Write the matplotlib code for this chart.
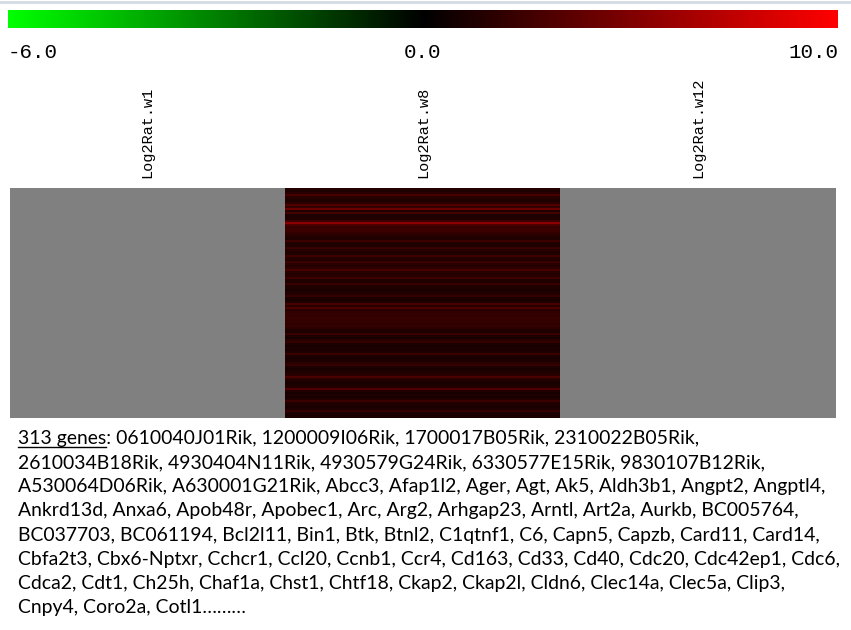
import numpy as np
import matplotlib
matplotlib.use('Agg')
import matplotlib.pyplot as plt
from matplotlib.colors import LinearSegmentedColormap, TwoSlopeNorm
from matplotlib.lines import Line2D

W, H = 851, 630

columns = ['Log2Rat.w1', 'Log2Rat.w8', 'Log2Rat.w12']

# log2 ratio for w8, read top to bottom (each value ~ 2 px band of the heatmap)
w8 = [1.4, 1.2, 1.6, 2.8, 1.6, 1.4, 1.2, 1.7, 3.2, 1.9,
      4.2, 1.4, 2.6, 1.2, 1.1, 1.4, 2.4, 5.5, 3.0, 2.1,
      2.4, 2.2, 2.0, 1.5, 1.4, 1.2, 2.4, 1.4, 1.2, 2.2,
      1.6, 1.2, 1.3, 2.4, 1.5, 1.3, 2.3, 1.7, 1.4, 1.8,
      2.8, 1.7, 1.3, 1.6, 2.4, 1.3, 1.2, 2.2, 1.3, 1.1,
      1.0, 1.2, 1.4, 2.1, 1.2, 1.0, 1.3, 2.8, 1.6, 3.0,
      1.5, 1.9, 2.1, 1.9, 2.2, 2.0, 2.1, 1.8, 2.1, 1.7,
      1.3, 1.1, 2.2, 1.2, 1.0, 1.5, 2.1, 1.1, 1.0, 1.1,
      1.0, 1.3, 2.2, 1.1, 1.0, 1.1, 1.6, 2.1, 1.1, 1.0,
      1.1, 1.3, 1.7, 3.0, 1.5, 1.1, 1.0, 1.1, 1.3, 3.1,
      1.3, 1.0, 1.1, 1.0, 1.3, 2.3, 1.4, 1.1, 1.0, 1.2,
      2.1, 1.1, 1.0, 1.1]
# w1 and w12 have no values (drawn grey)
w1 = [np.nan] * len(w8)
w12 = [np.nan] * len(w8)

cbar_ticks = [-6, 0, 10]
cbar_labels = ['-6.0', '0.0', '10.0']

n_genes = 313
gene_lines = [
    ': 0610040J01Rik, 1200009I06Rik, 1700017B05Rik, 2310022B05Rik,',
    '2610034B18Rik, 4930404N11Rik, 4930579G24Rik, 6330577E15Rik, 9830107B12Rik,',
    'A530064D06Rik, A630001G21Rik, Abcc3, Afap1l2, Ager, Agt, Ak5, Aldh3b1, Angpt2, Angptl4,',
    'Ankrd13d, Anxa6, Apob48r, Apobec1, Arc, Arg2, Arhgap23, Arntl, Art2a, Aurkb, BC005764,',
    'BC037703, BC061194, Bcl2l11, Bin1, Btk, Btnl2, C1qtnf1, C6, Capn5, Capzb, Card11, Card14,',
    'Cbfa2t3, Cbx6-Nptxr, Cchcr1, Ccl20, Ccnb1, Ccr4, Cd163, Cd33, Cd40, Cdc20, Cdc42ep1, Cdc6,',
    'Cdca2, Cdt1, Ch25h, Chaf1a, Chst1, Chtf18, Ckap2, Ckap2l, Cldn6, Clec14a, Clec5a, Clip3,',
    'Cnpy4, Coro2a, Cotl1\u2026\u2026\u2026',
]


def box(x0, y0, x1, y1):
    # pixel box (from top-left) -> figure fraction rect
    return [x0 / W, 1 - y1 / H, (x1 - x0) / W, (y1 - y0) / H]


fig = plt.figure(figsize=(W / 100, H / 100), dpi=100)
fig.patch.set_facecolor('white')

cmap = LinearSegmentedColormap.from_list('gkr', ['#00ff00', '#000000', '#ff0000'])
cmap.set_bad('#808080')
norm = TwoSlopeNorm(vmin=-6, vcenter=0, vmax=10)

# heatmap
ax = fig.add_axes(box(10, 188, 836, 418))
data = np.ma.masked_invalid(np.column_stack([w1, w8, w12]))
im = ax.imshow(data, aspect='auto', cmap=cmap, norm=norm, interpolation='nearest')
ax.set_xticks(range(len(columns)))
ax.set_xticklabels(columns, rotation=90, family='Liberation Mono', fontsize=11)
ax.xaxis.tick_top()
ax.tick_params(axis='x', length=0, pad=7)
ax.set_yticks([])
for s in ax.spines.values():
    s.set_visible(False)

# colour bar on top
cax = fig.add_axes(box(8, 10, 838, 28))
cb = fig.colorbar(im, cax=cax, orientation='horizontal')
cb.set_ticks(cbar_ticks)
cb.set_ticklabels(cbar_labels)
cb.minorticks_off()
cb.outline.set_visible(False)
cax.tick_params(length=0, pad=11, labelsize=15)
for lab, ha in zip(cax.get_xticklabels(), ['left', 'center', 'right']):
    lab.set_family('Liberation Mono')
    lab.set_ha(ha)

# thin grey line at the very top
fig.add_artist(Line2D([0, 1], [1 - 1.5 / H, 1 - 1.5 / H], color='#d5dbe2', lw=2))

# gene list text
fs = 13
base_y, step = 444, 24.15
head = f'{n_genes} genes'
texts = []
for i, line in enumerate(gene_lines):
    s = head + line if i == 0 else line
    t = fig.text(18 / W, 1 - (base_y + step * i) / H, s, fontsize=fs,
                 family='Lato', va='baseline', ha='left', color='black')
    texts.append(t)

fig.canvas.draw()
r = fig.canvas.get_renderer()
widest = max(t.get_window_extent(r).width for t in texts)
fs = fs * 817 / widest
for t in texts:
    t.set_fontsize(fs)

# underline "313 genes"
tmp = fig.text(18 / W, 0, head, fontsize=fs, family='Lato')
fig.canvas.draw()
hw = tmp.get_window_extent(fig.canvas.get_renderer()).width
tmp.remove()
uy = 1 - (base_y + 3) / H
fig.add_artist(Line2D([18 / W, (18 + hw) / W], [uy, uy], color='black', lw=1))

fig.savefig('out.png', dpi=100)
